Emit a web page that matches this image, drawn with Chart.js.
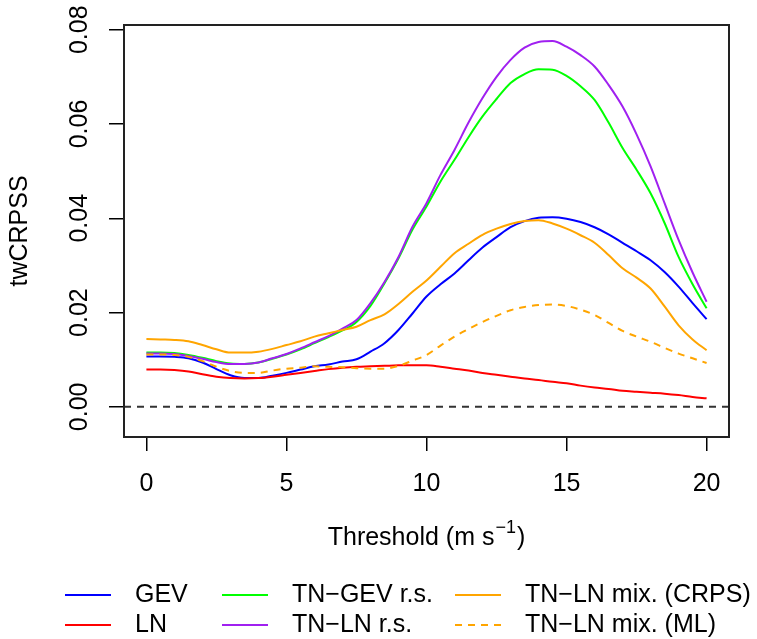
<!DOCTYPE html>
<html>
<head>
<meta charset="utf-8">
<script src="https://cdn.jsdelivr.net/npm/chart.js@4.4.0/dist/chart.umd.min.js"></script>
<style>
  html, body { margin: 0; padding: 0; background: #fff; }
</style>
</head>
<body>
<canvas id="crpsChart" width="757" height="639"></canvas>
<script>
// thresholds (m/s) and twCRPSS per model
var thresholds = [0, 0.5, 1, 1.5, 2, 2.5, 3, 3.5, 4, 4.5, 5, 5.5, 6, 6.5, 7, 7.5, 8, 8.5, 9, 9.5,
    10, 10.5, 11, 11.5, 12, 12.5, 13, 13.5, 14, 14.5, 15, 15.5, 16, 16.5, 17, 17.5, 18, 18.5, 19, 19.5, 20];

var gevValues = [0.0107, 0.0107, 0.0106, 0.0103, 0.0094, 0.0080, 0.0067, 0.0061, 0.0061, 0.0066,
    0.0072, 0.0079, 0.0086, 0.0090, 0.0096, 0.0101, 0.0117, 0.0135, 0.0163, 0.0198,
    0.0234, 0.0260, 0.0283, 0.0311, 0.0338, 0.0360, 0.0381, 0.0394, 0.0401, 0.0402,
    0.0399, 0.0392, 0.0381, 0.0366, 0.0348, 0.0330, 0.0311, 0.0286, 0.0255, 0.0220, 0.0186];

var lnValues = [0.0079, 0.0079, 0.0078, 0.0075, 0.0069, 0.0064, 0.0061, 0.0060, 0.0061, 0.0064,
    0.0068, 0.0072, 0.0076, 0.0080, 0.0083, 0.0085, 0.0086, 0.0087, 0.0088, 0.0088,
    0.0088, 0.0085, 0.0081, 0.0077, 0.0072, 0.0068, 0.0064, 0.0060, 0.0057, 0.0053,
    0.0050, 0.0045, 0.0041, 0.0038, 0.0034, 0.0032, 0.0030, 0.0028, 0.0025, 0.0021, 0.0018];

var tnGevValues = [0.0115, 0.0115, 0.0114, 0.0110, 0.0104, 0.0097, 0.0092, 0.0091, 0.0094, 0.0102,
    0.0111, 0.0122, 0.0135, 0.0148, 0.0162, 0.0180, 0.0214, 0.0262, 0.0315, 0.0376,
    0.0425, 0.0478, 0.0524, 0.0572, 0.0616, 0.0653, 0.0687, 0.0706, 0.0716, 0.0715,
    0.0702, 0.0680, 0.0651, 0.0603, 0.0549, 0.0503, 0.0453, 0.0390, 0.0318, 0.0260, 0.0209];

var tnLnValues = [0.0113, 0.0113, 0.0112, 0.0108, 0.0102, 0.0095, 0.0091, 0.0091, 0.0094, 0.0103,
    0.0112, 0.0124, 0.0137, 0.0150, 0.0166, 0.0184, 0.0220, 0.0265, 0.0318, 0.0382,
    0.0432, 0.0492, 0.0545, 0.0603, 0.0655, 0.0700, 0.0736, 0.0762, 0.0774, 0.0776,
    0.0764, 0.0746, 0.0722, 0.0683, 0.0637, 0.0578, 0.0510, 0.0432, 0.0354, 0.0285, 0.0223];

var mixCrpsValues = [0.0144, 0.0143, 0.0142, 0.0139, 0.0131, 0.0122, 0.0115, 0.0115, 0.0117, 0.0123,
    0.0131, 0.0139, 0.0149, 0.0156, 0.0163, 0.0170, 0.0184, 0.0196, 0.0218, 0.0244,
    0.0268, 0.0297, 0.0326, 0.0346, 0.0365, 0.0378, 0.0388, 0.0394, 0.0396, 0.0389,
    0.0378, 0.0364, 0.0348, 0.0322, 0.0294, 0.0274, 0.0251, 0.0213, 0.0173, 0.0143, 0.0120];

var mixMlValues = [0.0111, 0.0111, 0.0110, 0.0106, 0.0097, 0.0085, 0.0076, 0.0072, 0.0072, 0.0077,
    0.0081, 0.0083, 0.0086, 0.0085, 0.0084, 0.0082, 0.0081, 0.0081, 0.0087, 0.0098,
    0.0110, 0.0130, 0.0149, 0.0165, 0.0180, 0.0193, 0.0205, 0.0212, 0.0216, 0.0217,
    0.0214, 0.0206, 0.0195, 0.0178, 0.0161, 0.0149, 0.0138, 0.0125, 0.0113, 0.0103, 0.0093];

var xTicks = [0, 5, 10, 15, 20];
var yTicks = [0, 0.02, 0.04, 0.06, 0.08];

var FONT = "'Liberation Sans', Arial, Helvetica, sans-serif";

function toPoints(values) {
    return values.map((v, i) => ({ x: thresholds[i], y: v }));
}

function makeSeries(label, values, color, dash, idx) {
    return {
        label: label,
        data: toPoints(values),
        borderColor: color,
        backgroundColor: color,
        borderWidth: 2,
        borderDash: dash,
        pointRadius: 0,
        cubicInterpolationMode: 'monotone',
        fill: false,
        order: 10 - idx   // later series drawn on top, like R
    };
}

// box, zero line, rotated y labels, x title with superscript, 2-row legend (column-major like R)
var rPlotExtras = {
    id: 'rPlotExtras',
    beforeDatasetsDraw(chart) {
        var ctx = chart.ctx, area = chart.chartArea;
        var y0 = chart.scales.y.getPixelForValue(0);
        ctx.save();
        ctx.strokeStyle = '#333';
        ctx.lineWidth = 2;
        ctx.setLineDash([7, 6]);
        ctx.beginPath();
        ctx.moveTo(area.left, y0);
        ctx.lineTo(area.right, y0);
        ctx.stroke();
        ctx.restore();
    },
    afterDraw(chart) {
        var ctx = chart.ctx, area = chart.chartArea;
        ctx.save();
        ctx.strokeStyle = '#222';
        ctx.lineWidth = 2;
        ctx.strokeRect(area.left, area.top, area.right - area.left, area.bottom - area.top);

        // y tick labels, rotated
        var ys = chart.scales.y;
        ctx.fillStyle = '#000';
        ctx.font = '25px ' + FONT;
        ctx.textAlign = 'center';
        ctx.textBaseline = 'middle';
        ys.ticks.forEach(t => {
            ctx.save();
            ctx.translate(80, ys.getPixelForValue(t.value));
            ctx.rotate(-Math.PI / 2);
            ctx.fillText(t.value.toFixed(2), 0, 0);
            ctx.restore();
        });

        // x axis title: Threshold (m s^-1)
        var mainTxt = 'Threshold (m s', supTxt = '\u22121', endTxt = ')';
        ctx.font = '25px ' + FONT;
        var w1 = ctx.measureText(mainTxt).width, w3 = ctx.measureText(endTxt).width;
        ctx.font = '18px ' + FONT;
        var w2 = ctx.measureText(supTxt).width;
        var tx = (area.left + area.right) / 2 - (w1 + w2 + w3 + 2) / 2;
        var ty = 538;
        ctx.textAlign = 'left';
        ctx.font = '25px ' + FONT;
        ctx.fillText(mainTxt, tx, ty);
        ctx.font = '18px ' + FONT;
        ctx.fillText(supTxt, tx + w1 + 1, ty - 10);
        ctx.font = '25px ' + FONT;
        ctx.fillText(endTxt, tx + w1 + w2 + 2, ty);

        // legend
        var colX = [65, 222, 455];
        var rowY = [595, 625];
        chart.data.datasets.forEach((ds, i) => {
            var x = colX[Math.floor(i / 2)], y = rowY[i % 2];
            ctx.strokeStyle = ds.borderColor;
            ctx.lineWidth = 2;
            ctx.setLineDash(ds.borderDash || []);
            ctx.beginPath();
            ctx.moveTo(x, y);
            ctx.lineTo(x + 46, y);
            ctx.stroke();
            ctx.setLineDash([]);
            ctx.fillText(ds.label, x + 70, y);
        });
        ctx.restore();
    }
};

var ctx = document.getElementById('crpsChart').getContext('2d');
new Chart(ctx, {
    type: 'line',
    data: {
        datasets: [
            makeSeries('GEV', gevValues, '#0000FF', [], 0),
            makeSeries('LN', lnValues, '#FF0000', [], 1),
            makeSeries('TN\u2212GEV r.s.', tnGevValues, '#00FF00', [], 2),
            makeSeries('TN\u2212LN r.s.', tnLnValues, '#A020F0', [], 3),
            makeSeries('TN\u2212LN mix. (CRPS)', mixCrpsValues, '#FFA500', [], 4),
            makeSeries('TN\u2212LN mix. (ML)', mixMlValues, '#FFA500', [7, 6], 5)
        ]
    },
    options: {
        responsive: false,
        animation: false,
        layout: { padding: { left: 5, right: 28, top: 25, bottom: 86 } },
        plugins: {
            legend: { display: false },
            tooltip: { enabled: false }
        },
        scales: {
            x: {
                type: 'linear',
                min: -0.8,
                max: 20.8,
                afterBuildTicks: s => { s.ticks = xTicks.map(v => ({ value: v })); },
                afterFit: s => { s.height = 116; },
                border: { display: false },
                grid: { drawOnChartArea: false, drawTicks: true, tickLength: 14, color: '#000', lineWidth: 1.5 },
                ticks: {
                    color: '#000',
                    font: { family: FONT, size: 25 },
                    padding: 18,
                    maxRotation: 0,
                    callback: v => String(v)
                },
                title: { display: false }
            },
            y: {
                type: 'linear',
                min: -0.0064,
                max: 0.081,
                afterBuildTicks: s => { s.ticks = yTicks.map(v => ({ value: v })); },
                afterFit: s => { s.width = 119; },
                border: { display: false },
                grid: { drawOnChartArea: false, drawTicks: true, tickLength: 15, color: '#000', lineWidth: 1.5 },
                ticks: { display: false },
                title: {
                    display: true,
                    text: 'twCRPSS',
                    color: '#000',
                    font: { family: FONT, size: 25 },
                    padding: 0
                }
            }
        }
    },
    plugins: [rPlotExtras]
});
</script>
</body>
</html>
